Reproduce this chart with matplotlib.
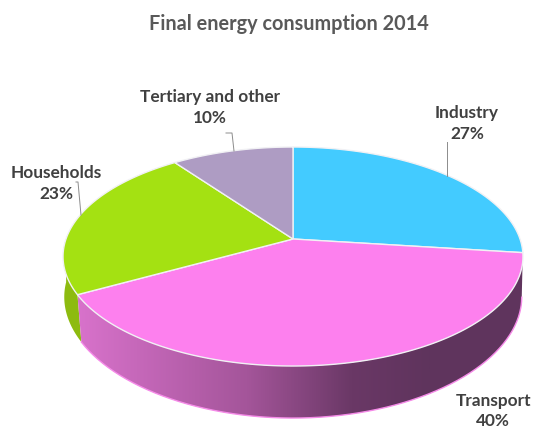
import numpy as np
import matplotlib
matplotlib.use('Agg')
import matplotlib.pyplot as plt
from matplotlib.colors import LinearSegmentedColormap
from matplotlib.patches import Polygon

# Data
categories = ['Industry', 'Transport', 'Households', 'Tertiary and other']
shares = [27, 40, 23, 10]
colors = ['#43CBFF', '#FD80EE', '#A4E112', '#AE9CC3']

# Pie projection, pixel units of the 534x432 figure
cx, cy = 293, 239
a, b, k = 227, 106.7, 0.16
depth = 43.7
rim_shrink = 0.0375


def top_rim(deg):
    t = np.radians(deg)
    u, v = np.sin(t), np.cos(t)
    d = 1 + k * v
    return np.column_stack([cx + a * u / d, cy - b * v / d])


def low_rim(deg):
    t = np.radians(deg)
    v = np.cos(t)
    pts = top_rim(deg)
    pts[:, 0] = cx + (pts[:, 0] - cx) * (1 - rim_shrink * np.maximum(-v, 0))
    pts[:, 1] = pts[:, 1] + depth / (1 + k * v)
    return pts


def side_poly(start, end):
    deg = np.linspace(start, end, 200)
    return np.vstack([top_rim(deg), low_rim(deg)[::-1]])


edges = np.cumsum([0] + shares) * 3.6

fig = plt.figure(figsize=(5.34, 4.32), dpi=100)
ax = fig.add_axes([0, 0, 1, 1])

# Side walls
ax.add_patch(Polygon(side_poly(edges[2], edges[2] + 29), closed=True, fc='#8DBB0F', ec='none', zorder=1))

side_cmap = LinearSegmentedColormap.from_list(
    'side', [(0, '#D872CB'), (0.48, '#A4559A'), (0.78, '#6A3866'), (1, '#5F345D')])
grad = ax.imshow(np.linspace(0, 1, 256).reshape(1, -1), cmap=side_cmap, aspect='auto',
                 extent=[78, 430, 432, 0], zorder=2)
side_patch = Polygon(side_poly(edges[1], edges[2]), closed=True, fc='none', ec='none',
                     transform=ax.transData)
ax.add_patch(side_patch)
grad.set_clip_path(side_patch)
# dark part of the wall right of the gradient
deg = np.linspace(edges[1], edges[2], 200)
ax.plot(*low_rim(deg).T, color='#F58AE8', lw=1, zorder=3)

ax.fill_between([430, 534], 0, 432, color='#5F345D', zorder=1.5, clip_path=side_patch)

# Top faces
for i, col in enumerate(colors):
    deg = np.linspace(edges[i], edges[i + 1], 150)
    pts = np.vstack([[cx, cy], top_rim(deg)])
    ax.add_patch(Polygon(pts, closed=True, fc=col, ec='#F1F1F4', lw=1, zorder=4))

# Labels
label_pos = [(467, 123.5), (493, 411), (56, 183.5), (210, 107.5)]
for name, share, (x, y) in zip(categories, shares, label_pos):
    ax.text(x, y, f'{name}\n{share}%', ha='center', va='center', fontsize=12.4,
            fontweight='bold', family='Lato', color='#404040', linespacing=1.34, zorder=6)

# Leader lines
leaders = [([447, 447], [142, 176]), ([76, 78, 81], [182, 182, 215]), ([226, 232, 234], [133, 133, 151])]
for xs, ys in leaders:
    ax.plot(xs, ys, color='#8C8C8C', lw=0.7, zorder=5)

ax.text(289, 24, 'Final energy consumption 2014', ha='center', va='center', fontsize=14.3,
        fontweight='bold', family='Lato', color='#595959')

ax.set_xlim(0, 534)
ax.set_ylim(432, 0)
ax.axis('off')
fig.savefig('out.png', dpi=100)
